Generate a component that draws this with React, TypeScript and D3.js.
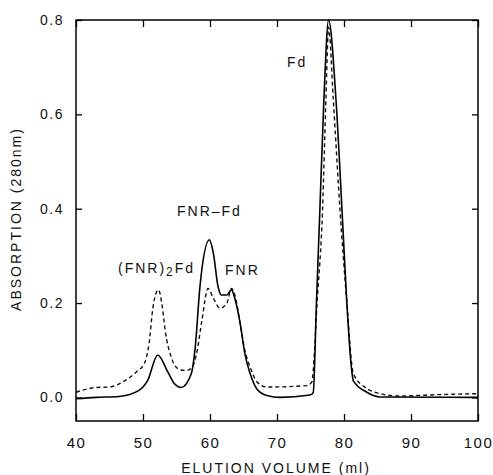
import React, { useEffect, useRef } from "react";
import * as d3 from "d3";

// elution volume (ml) / absorption at 280nm
const solidVol = [40, 43, 46.4, 49.4, 50.7, 52.2, 53.7, 54.7, 55.7, 57.2, 57.8, 58.5, 59.9, 60.5, 61.2, 61.7, 62.5, 63.2, 63.7, 64.5, 65.2, 66.0, 67.0, 68.5, 70.4, 74.9, 75.4, 75.9, 76.4, 77.0, 77.7, 78.8, 79.7, 80.4, 81.1, 81.4, 83.4, 85.4, 100];
const solidAbs = [-0.003, 0.0, 0.002, 0.015, 0.036, 0.09, 0.054, 0.029, 0.021, 0.05, 0.107, 0.235, 0.334, 0.306, 0.235, 0.217, 0.217, 0.228, 0.21, 0.157, 0.093, 0.05, 0.018, 0.004, 0.0, 0.005, 0.01, 0.206, 0.398, 0.632, 0.8, 0.632, 0.398, 0.206, 0.064, 0.035, 0.011, 0.001, 0.0];

const dashVol = [40, 43, 45, 47, 49, 50.2, 50.9, 51.5, 52.3, 52.9, 53.3, 54.2, 55.2, 56.4, 57.3, 58.0, 58.8, 59.7, 60.5, 61.5, 62.5, 63.2, 63.7, 64.5, 65.2, 66.0, 67.0, 68.5, 74.5, 75.2, 76.0, 76.8, 77.3, 77.7, 78.4, 79.4, 80.4, 81.4, 83.4, 85.4, 88.1, 94.3, 100];
const dashAbs = [0.011, 0.021, 0.022, 0.033, 0.054, 0.072, 0.114, 0.192, 0.228, 0.19, 0.143, 0.086, 0.061, 0.057, 0.063, 0.093, 0.164, 0.231, 0.21, 0.189, 0.199, 0.231, 0.217, 0.157, 0.1, 0.064, 0.033, 0.022, 0.025, 0.033, 0.206, 0.398, 0.632, 0.785, 0.632, 0.398, 0.206, 0.05, 0.019, 0.008, 0.003, 0.006, 0.008];

const xTicks = [40, 50, 60, 70, 80, 90, 100];
const yTicks = [0.0, 0.2, 0.4, 0.6, 0.8];

const FONT = "'Liberation Sans', Arial, Helvetica, sans-serif";

export default function App() {
  const ref = useRef<SVGSVGElement>(null);

  useEffect(() => {
    const svg = d3.select(ref.current);
    svg.selectAll("*").remove();

    const margin = { top: 20, right: 15, bottom: 54, left: 76 };
    const width = 493 - margin.left - margin.right;
    const height = 475 - margin.top - margin.bottom;

    const g = svg.append("g").attr("transform", `translate(${margin.left},${margin.top})`);

    const x = d3.scaleLinear().domain([40, 100]).range([0, width]);
    const y = d3.scaleLinear().domain([-0.05, 0.8]).range([height, 0]);

    const styleAxis = (a: any, labels: boolean, size: number) => {
      a.select(".domain").remove();
      a.selectAll(".tick line").attr("stroke", "#000").attr("stroke-width", 1.3);
      a.selectAll(".tick text")
        .attr("fill", labels ? "#111" : "none")
        .style("font-family", FONT)
        .style("font-size", size + "px")
        .style("letter-spacing", "1.5px");
    };

    g.append("g").attr("transform", `translate(0,${height})`)
      .call(d3.axisBottom(x).tickValues(xTicks).tickFormat(d3.format("d")).tickSizeInner(-7).tickSizeOuter(0).tickPadding(16))
      .call((a: any) => styleAxis(a, true, 15));
    g.append("g")
      .call(d3.axisTop(x).tickValues(xTicks).tickFormat(() => "").tickSizeInner(-7).tickSizeOuter(0))
      .call((a: any) => styleAxis(a, false, 14));
    g.append("g")
      .call(d3.axisLeft(y).tickValues(yTicks).tickFormat(d3.format(".1f")).tickSizeInner(-6).tickSizeOuter(0).tickPadding(12))
      .call((a: any) => styleAxis(a, true, 14));
    g.append("g").attr("transform", `translate(${width},0)`)
      .call(d3.axisRight(y).tickValues(yTicks).tickFormat(() => "").tickSizeInner(-6).tickSizeOuter(0))
      .call((a: any) => styleAxis(a, false, 14));

    g.append("rect")
      .attr("width", width).attr("height", height)
      .attr("fill", "none").attr("stroke", "#000").attr("stroke-width", 1.5);

    const line = d3.line<[number, number]>()
      .x(d => x(d[0]))
      .y(d => y(d[1]))
      .curve(d3.curveMonotoneX);

    const solid: [number, number][] = solidVol.map((v, i) => [v, solidAbs[i]]);
    const dashed: [number, number][] = dashVol.map((v, i) => [v, dashAbs[i]]);

    g.append("path").datum(dashed)
      .attr("fill", "none").attr("stroke", "#111")
      .attr("stroke-width", 1.4).attr("stroke-dasharray", "4,3")
      .attr("d", line);
    g.append("path").datum(solid)
      .attr("fill", "none").attr("stroke", "#000")
      .attr("stroke-width", 1.6).attr("stroke-linejoin", "round")
      .attr("d", line);

    const txt = (s: string, px: number, py: number) =>
      svg.append("text").attr("x", px).attr("y", py)
        .style("font-family", FONT).style("font-size", "14px")
        .style("letter-spacing", "2px").attr("fill", "#111").text(s);

    txt("Fd", 287, 67);
    txt("FNR\u2013Fd", 177, 216);
    txt("FNR", 225, 275);
    const t = txt("(FNR)", 118, 273);
    t.append("tspan").attr("dy", 3).style("font-size", "12px").text("2");
    t.append("tspan").attr("dy", -3).text("Fd");

    svg.append("text")
      .attr("x", 276).attr("y", 473).attr("text-anchor", "middle")
      .style("font-family", FONT).style("font-size", "14px").style("letter-spacing", "2px")
      .attr("fill", "#111").text("ELUTION VOLUME (ml)");

    svg.append("text")
      .attr("transform", "translate(21,219) rotate(-90)").attr("text-anchor", "middle")
      .style("font-family", FONT).style("font-size", "14px").style("letter-spacing", "2px")
      .attr("fill", "#111").text("ABSORPTION (280nm)");
  }, []);

  return (
    <svg ref={ref} width={493} height={475} style={{ position: "absolute", left: 0, top: 0, background: "#fff" }} />
  );
}
